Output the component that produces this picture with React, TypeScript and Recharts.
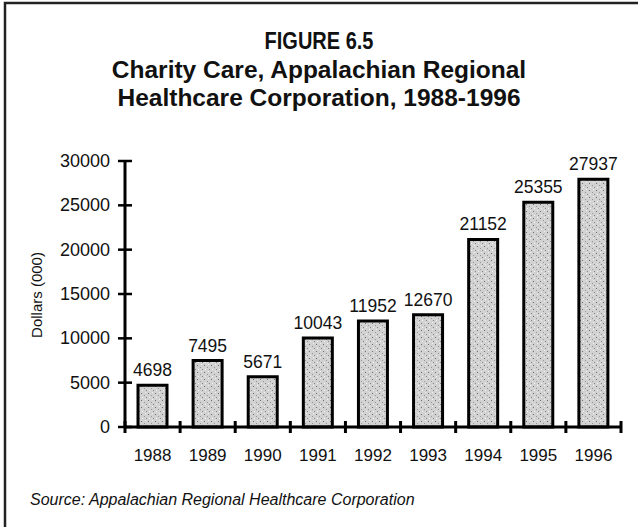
import React from 'react';
import { BarChart, Bar, XAxis, YAxis, LabelList } from 'recharts';

const years = ['1988', '1989', '1990', '1991', '1992', '1993', '1994', '1995', '1996'];
const charityCare = [4698, 7495, 5671, 10043, 11952, 12670, 21152, 25355, 27937];
const yTicks = [0, 5000, 10000, 15000, 20000, 25000, 30000];

const titleLines = [
  'FIGURE 6.5',
  'Charity Care, Appalachian Regional',
  'Healthcare Corporation, 1988-1996',
];
const yLabel = 'Dollars (000)';
const sourceNote = 'Source: Appalachian Regional Healthcare Corporation';

const data = years.map((y, i) => ({ year: y, value: charityCare[i] }));

const FONT = '"Liberation Sans", Arial, Helvetica, sans-serif';

// baseline, size and vertical stretch for each title line
const titleY = [49, 78, 106];
const titleSize = [20, 24.5, 24.5];
const titleStretch = [1.2, 1, 1];

function YTick({ x, y, payload }: any) {
  // tick mark crosses the axis line on both sides
  return (
    <g>
      <line x1={x - 7} x2={x + 7} y1={y} y2={y} stroke="#000" strokeWidth={2.5} />
      <text x={x - 15} y={y} dy={6} textAnchor="end" fontSize={18} fontFamily={FONT} fill="#111">
        {payload.value}
      </text>
    </g>
  );
}

function XTick({ x, y, payload, index, visibleTicksCount }: any) {
  const half = payload.offset ?? 27.5;
  const isLast = index === visibleTicksCount - 1;
  return (
    <g>
      <line x1={x - half} x2={x - half} y1={y - 6} y2={y + 6} stroke="#000" strokeWidth={3} />
      {isLast && <line x1={x + half} x2={x + half} y1={y - 6} y2={y + 6} stroke="#000" strokeWidth={3} />}
      <text x={x} y={y} dy={34} textAnchor="middle" fontSize={17} fontFamily={FONT} fill="#111">
        {payload.value}
      </text>
    </g>
  );
}

export default function App() {
  return (
    <div style={{ position: 'absolute', left: 0, top: 0, width: 638, height: 527, background: '#fff' }}>
      <BarChart width={638} height={527} data={data} margin={{ top: 161, right: 17, left: 65, bottom: 70 }}>
        <defs>
          <pattern id="stipple" width="7" height="7" patternUnits="userSpaceOnUse">
            <rect width="7" height="7" fill="#d2d2d2" />
            <rect x="1" y="1" width="1" height="1" fill="#6f6f6f" />
            <rect x="4" y="3" width="1" height="1" fill="#959595" />
            <rect x="2" y="5" width="1" height="1" fill="#f4f4f4" />
            <rect x="5" y="0" width="1" height="1" fill="#f0f0f0" />
            <rect x="6" y="5" width="1" height="1" fill="#858585" />
          </pattern>
        </defs>
        <XAxis
          dataKey="year"
          height={30}
          axisLine={{ stroke: '#000', strokeWidth: 3 }}
          tickLine={false}
          tickSize={0}
          tickMargin={0}
          tick={<XTick />}
          interval={0}
        />
        <YAxis
          width={60}
          domain={[0, 30000]}
          ticks={yTicks}
          axisLine={{ stroke: '#000', strokeWidth: 3 }}
          tickLine={false}
          tickSize={0}
          tickMargin={0}
          tick={<YTick />}
          interval={0}
        />
        <Bar dataKey="value" barSize={29} fill="url(#stipple)" stroke="#000" strokeWidth={3} isAnimationActive={false}>
          <LabelList dataKey="value" position="top" offset={9} fontSize={17.5} fontFamily={FONT} fill="#111" />
        </Bar>
      </BarChart>
      <svg width={638} height={527} style={{ position: 'absolute', left: 0, top: 0, pointerEvents: 'none' }}>
        <polyline points="5,527 5,3 638,3" fill="none" stroke="#222" strokeWidth={2.5} />
        {titleLines.map((t, i) => (
          <text
            key={t}
            x={0}
            y={0}
            transform={`translate(319,${titleY[i]}) scale(1,${titleStretch[i]})`}
            textAnchor="middle"
            fontSize={titleSize[i]}
            fontWeight="bold"
            fontFamily={FONT}
            fill="#111"
          >
            {t}
          </text>
        ))}
        <text x={0} y={0} transform="translate(42,295) rotate(-90)" textAnchor="middle" fontSize={15} fontFamily={FONT} fill="#111">
          {yLabel}
        </text>
        <text x={30} y={505} fontSize={16} fontStyle="italic" fontFamily={FONT} fill="#111">
          {sourceNote}
        </text>
      </svg>
    </div>
  );
}
